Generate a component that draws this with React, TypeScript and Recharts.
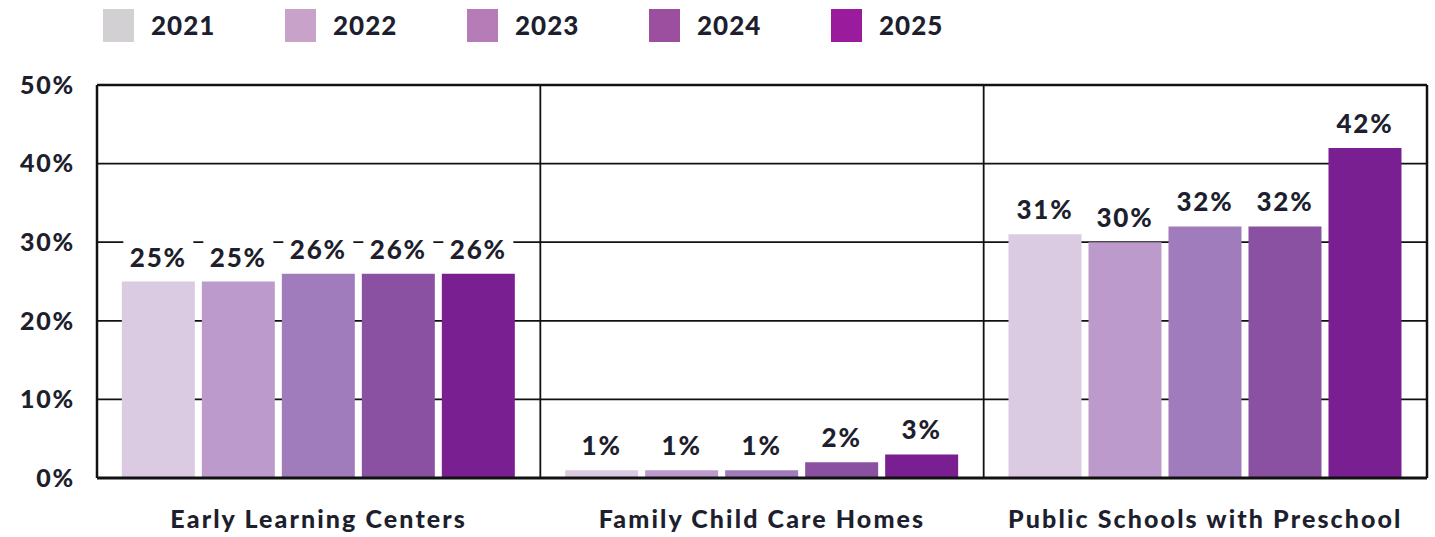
import React from "react";
import {
  BarChart,
  Bar,
  XAxis,
  YAxis,
  CartesianGrid,
  Legend,
  LabelList,
  ReferenceLine,
} from "recharts";

const FONT = "Lato, 'Open Sans', sans-serif";
const TEXT_COLOR = "#1e1f2e";

const categories = ["Early Learning Centers", "Family Child Care Homes", "Public Schools with Preschool"];
const years = ["2021", "2022", "2023", "2024", "2025"];
const values2021 = [25, 1, 31];
const values2022 = [25, 1, 30];
const values2023 = [26, 1, 32];
const values2024 = [26, 2, 32];
const values2025 = [26, 3, 42];
const yTicks = [0, 10, 20, 30, 40, 50];

const BAR_COLORS = ["#dacbe2", "#bc9bcc", "#a17cbc", "#8a50a1", "#7a1f91"];
const LEGEND_COLORS = ["#d2d0d2", "#c8a2c9", "#b67cb7", "#9c4f9f", "#9a1b9b"];

const seriesValues = [values2021, values2022, values2023, values2024, values2025];
const data = categories.map((name, i) => {
  const row: Record<string, string | number> = { name };
  years.forEach((y, j) => {
    row[y] = seriesValues[j][i];
  });
  return row;
});

function ValueLabel(props: any) {
  const { x, y, width, value } = props;
  const cx = x + width / 2;
  return (
    <g>
      <rect x={cx - 35} y={y - 42} width={70} height={32} fill="#ffffff" />
      <text
        x={cx}
        y={y - 25}
        textAnchor="middle"
        dominantBaseline="central"
        fill={TEXT_COLOR}
        fontFamily={FONT}
        fontWeight={900}
        fontSize={26}
        letterSpacing={1.8}
      >
        {value}%
      </text>
    </g>
  );
}

function TopLegend() {
  return (
    <div style={{ display: "flex", height: 50, paddingLeft: 103, paddingTop: 4, boxSizing: "border-box" }}>
      {years.map((y, i) => (
        <div key={y} style={{ display: "flex", alignItems: "center", width: 182, height: 42 }}>
          <span style={{ display: "inline-block", width: 31, height: 33, background: LEGEND_COLORS[i], marginRight: 17 }} />
          <span style={{ fontFamily: FONT, fontWeight: 900, fontSize: 26, letterSpacing: 1, color: TEXT_COLOR }}>{y}</span>
        </div>
      ))}
    </div>
  );
}

export default function App() {
  return (
    <div style={{ position: "absolute", left: 0, top: 0, width: 1435, height: 537, background: "#fff" }}>
      <BarChart
        width={1435}
        height={537}
        data={data}
        margin={{ top: 35, right: 8, bottom: 0, left: 0 }}
        barCategoryGap="5.6%"
        barGap={7}
      >
        <CartesianGrid horizontal vertical={false} stroke="#111" strokeWidth={1.8} />
        <XAxis
          dataKey="name"
          height={59}
          tickLine={false}
          tickSize={0}
          axisLine={{ stroke: "#111", strokeWidth: 3 }}
          tick={{ fontFamily: FONT, fontWeight: 900, fontSize: 25, letterSpacing: 2.1, fill: TEXT_COLOR, dy: 30 }}
          interval={0}
        />
        <YAxis
          width={97}
          domain={[0, 50]}
          ticks={yTicks}
          tickFormatter={(v) => `${v}%`}
          tickLine={false}
          tickSize={0}
          tickMargin={22}
          axisLine={{ stroke: "#111", strokeWidth: 2.5 }}
          tick={{ fontFamily: FONT, fontWeight: 900, fontSize: 25, letterSpacing: 1.8, fill: TEXT_COLOR }}
        />
        <Legend verticalAlign="top" align="left" content={() => <TopLegend />} wrapperStyle={{ left: 0, top: 0, width: 1435 }} />
        {years.map((y, i) => (
          <Bar key={y} dataKey={y} fill={BAR_COLORS[i]} isAnimationActive={false}>
            <LabelList dataKey={y} content={ValueLabel} />
          </Bar>
        ))}
        <ReferenceLine x={categories[1]} position="start" stroke="#111" strokeWidth={1.8} />
        <ReferenceLine x={categories[2]} position="start" stroke="#111" strokeWidth={1.8} />
        <ReferenceLine x={categories[2]} position="end" stroke="#111" strokeWidth={2.5} />
        <ReferenceLine y={50} stroke="#111" strokeWidth={2.5} />
      </BarChart>
    </div>
  );
}
